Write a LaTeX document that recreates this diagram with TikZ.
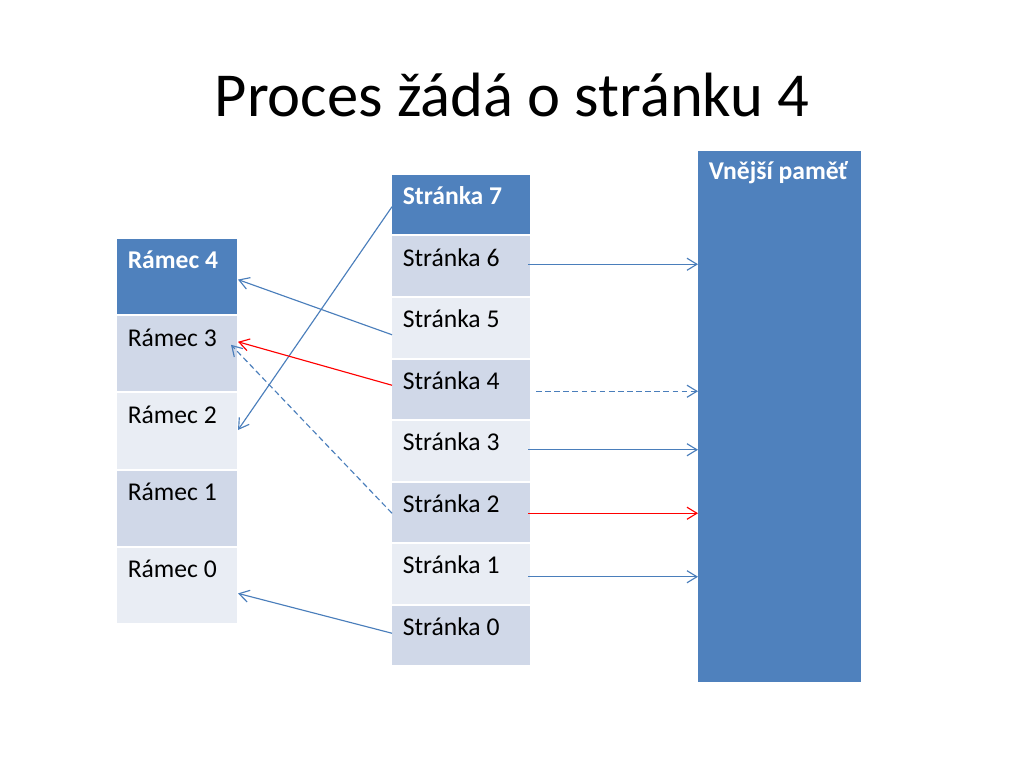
\documentclass[tikz,border=0pt]{standalone}
\usepackage{fontspec}
\setmainfont{Carlito}
\usetikzlibrary{arrows.meta,calc}
\definecolor{hdr}{HTML}{4F81BD}
\definecolor{rowdark}{HTML}{D0D8E8}
\definecolor{rowlight}{HTML}{E9EDF4}
\definecolor{lnblue}{HTML}{4A7EBB}
\definecolor{lnred}{HTML}{FF0000}
\tikzset{
  cellL/.style={draw=none, anchor=north west, minimum width=120*0.703125pt, minimum height=75.2*0.703125pt, inner sep=0pt, outer sep=0pt},
  cellM/.style={draw=none, anchor=north west, minimum width=138*0.703125pt, minimum height=59.5*0.703125pt, inner sep=0pt, outer sep=0pt},
  lbl/.style={anchor=base west, inner sep=0pt, xshift=7.4pt, yshift=-21pt, font=\fontsize{18}{21.6}\selectfont},
  hlbl/.style={lbl, text=white, font=\fontsize{18}{21.6}\selectfont\bfseries},
  conn/.style={draw=lnblue, line width=0.8pt, -{Straight Barb[length=7pt,width=8.5pt,line width=0.8pt]}},
  connred/.style={conn, draw=lnred},
  conndash/.style={conn, dash pattern=on 4pt off 2.4pt},
}
\begin{document}
\begin{tikzpicture}[x=0.703125pt, y=-0.703125pt]
\useasboundingbox[fill=white] (0,0) rectangle (1024,768);
% title
\node[anchor=base, inner sep=0pt, font=\fontsize{44}{52}\selectfont] (title) at (512,117) {Proces žádá o stránku 4};
% left table (frames)
\node[cellL, fill=hdr, label={[hlbl]north west:Rámec 4}] (r4) at (117,239) {};
\node[cellL, fill=rowdark, label={[lbl]north west:Rámec 3}] (r3) at (117,316.2) {};
\node[cellL, fill=rowlight, label={[lbl]north west:Rámec 2}] (r2) at (117,393.4) {};
\node[cellL, fill=rowdark, label={[lbl]north west:Rámec 1}] (r1) at (117,470.6) {};
\node[cellL, fill=rowlight, label={[lbl]north west:Rámec 0}] (r0) at (117,547.8) {};
% middle table (pages)
\node[cellM, fill=hdr, label={[hlbl]north west:Stránka 7}] (s7) at (392,175) {};
\node[cellM, fill=rowdark, label={[lbl]north west:Stránka 6}] (s6) at (392,236.5) {};
\node[cellM, fill=rowlight, label={[lbl]north west:Stránka 5}] (s5) at (392,298) {};
\node[cellM, fill=rowdark, label={[lbl]north west:Stránka 4}] (s4) at (392,359.5) {};
\node[cellM, fill=rowlight, label={[lbl]north west:Stránka 3}] (s3) at (392,421) {};
\node[cellM, fill=rowdark, label={[lbl]north west:Stránka 2}] (s2) at (392,482.5) {};
\node[cellM, fill=rowlight, label={[lbl]north west:Stránka 1}] (s1) at (392,544) {};
\node[cellM, fill=rowdark, label={[lbl]north west:Stránka 0}] (s0) at (392,605.5) {};
% external memory
\node[draw=none, fill=hdr, anchor=north west, minimum width=163*0.703125pt, minimum height=531*0.703125pt, inner sep=0pt, outer sep=0pt,
  label={[hlbl, yshift=1pt]north west:Vnější paměť}] (ext) at (698,151) {};
% page -> frame mappings
\draw[conn] ($(s7.west)+(0,2)$) -- ($(r2.east)+(1,-1)$);
\draw[conn] ($(s5.west)+(0,7)$) -- ($(r4.east)+(1,3)$);
\draw[connred] ($(s4.west)+(0,-4)$) -- ($(r3.east)+(1,-12)$);
\draw[conndash] ($(s2.west)+(0,1)$) -- ($(r3.east)+(-6,-9)$);
\draw[conn] ($(s0.west)+(0,-2)$) -- ($(r0.east)+(1,8)$);
% page -> external memory
\coordinate (a6) at ($(s6.east)+(-2,-2)$);
\coordinate (a4) at ($(s4.east)+(6,2)$);
\coordinate (a3) at ($(s3.east)+(-2,-1)$);
\coordinate (a2) at ($(s2.east)+(-2,1)$);
\coordinate (a1) at ($(s1.east)+(-2,3)$);
\draw[conn] (a6) -- (a6 -| ext.west);
\draw[conndash] (a4) -- (a4 -| ext.west);
\draw[conn] (a3) -- (a3 -| ext.west);
\draw[connred] (a2) -- (a2 -| ext.west);
\draw[conn] (a1) -- (a1 -| ext.west);
\end{tikzpicture}
\end{document}
